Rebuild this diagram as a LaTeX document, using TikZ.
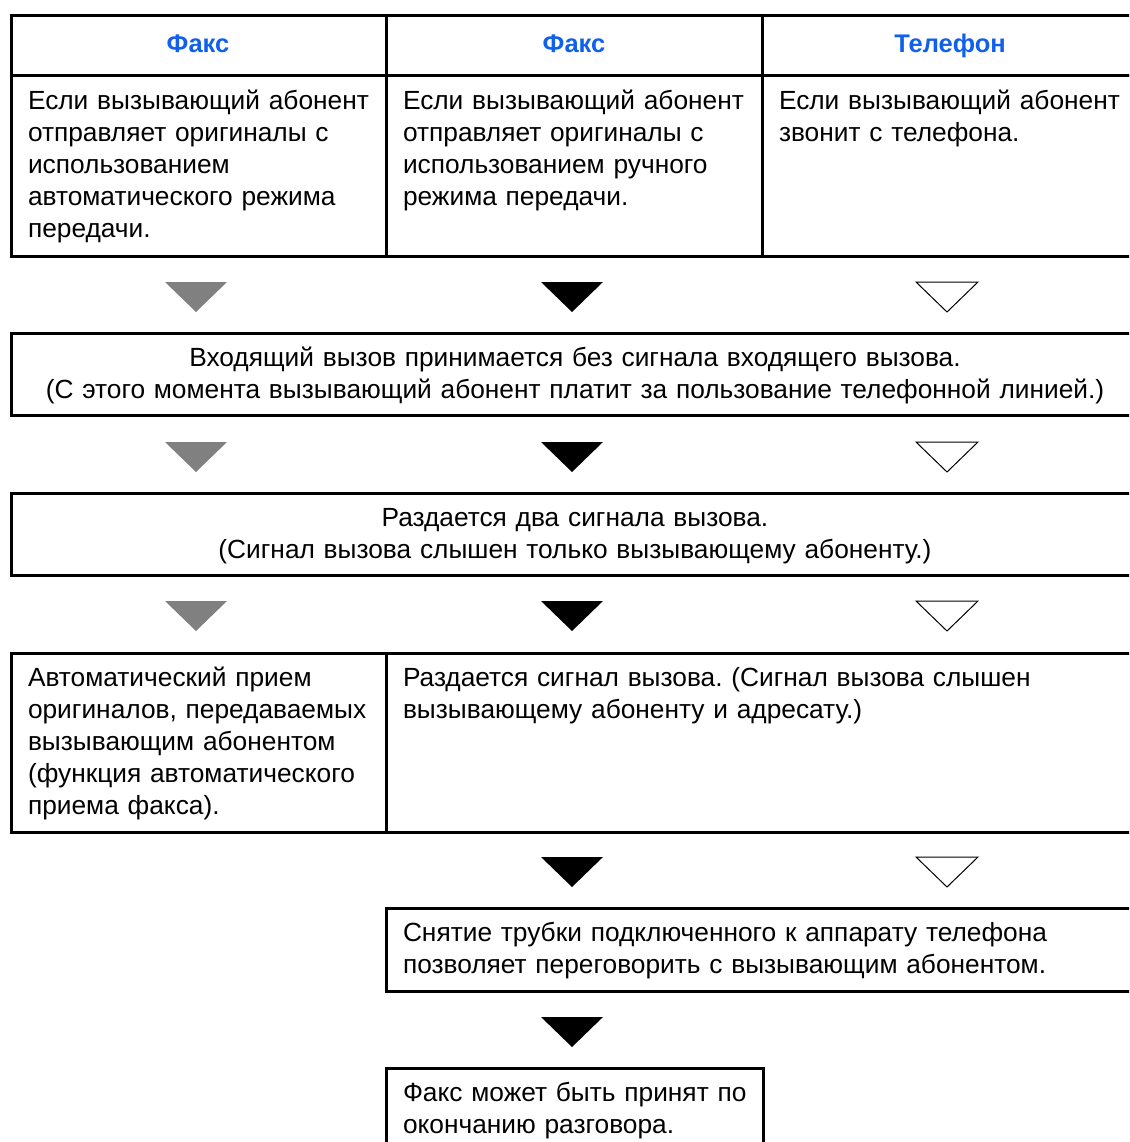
\documentclass[tikz,border=0pt]{standalone}
\usepackage{fontspec}
\setmainfont{Liberation Sans}
\frenchspacing
\definecolor{hblue}{RGB}{16,96,236}
\definecolor{tgray}{RGB}{128,128,128}
\begin{document}
\begin{tikzpicture}[x=1pt,y=-1pt,
  cell/.style={draw,line width=3pt,rectangle,anchor=north west,inner sep=0pt,outer sep=0pt},
  hdr/.style={font=\fontsize{25.5}{30}\selectfont\bfseries\frenchspacing,text=hblue,anchor=base,inner sep=0pt},
  txt/.style={anchor=north west,inner sep=0pt,outer sep=0pt,align=left,text width=#1,font=\fontsize{26.3}{32}\selectfont\frenchspacing},
  ctxt/.style={anchor=north,inner sep=0pt,outer sep=0pt,align=center,text width=#1,font=\fontsize{26.3}{32}\selectfont\frenchspacing},
  tri/.pic={\path[pic actions] (-31,0) -- (31,0) -- (0,30) -- cycle;},
  trigray/.style={fill=tgray},
  triblack/.style={fill=black},
  triwhite/.style={draw=black,fill=white,line width=1pt,line join=miter},
]
\useasboundingbox (0,0) rectangle (1129,1142);
\clip (0,0) rectangle (1129,1142);
% top table
\node[cell,minimum width=375,minimum height=60] (h1) at (11,16) {};
\node[cell,minimum width=376,minimum height=60] (h2) at (386,16) {};
\node[cell,minimum width=377,minimum height=60] (h3) at (762,16) {};
\node[cell,minimum width=375,minimum height=180] (c1) at (11,76) {};
\node[cell,minimum width=376,minimum height=180] (c2) at (386,76) {};
\node[cell,minimum width=377,minimum height=180] (c3) at (762,76) {};
\node[hdr] (h1t) at (198,53) {Факс};
\node[hdr] (h2t) at (574,53) {Факс};
\node[hdr] (h3t) at (950,53) {Телефон};
\node[txt=370] (c1t) at (28,87.6) {\strut Если вызывающий абонент\\отправляет оригиналы с\\использованием\\автоматического режима\\передачи.};
\node[txt=370] (c2t) at (403,87.6) {\strut Если вызывающий абонент\\отправляет оригиналы с\\использованием ручного\\режима передачи.};
\node[txt=370] (c3t) at (779,87.6) {\strut Если вызывающий абонент\\звонит с телефона.};
% row 1 triangles
\pic[trigray] at (196,282) {tri};
\pic[triblack] at (572,282) {tri};
\pic[triwhite] at (947,282) {tri};
% box 2
\node[cell,minimum width=1128,minimum height=82] (b2) at (11,333) {};
\node[ctxt=1120] (b2t) at (575,343.6) {\strut Входящий вызов принимается без сигнала входящего вызова.\\(С этого момента вызывающий абонент платит за пользование телефонной линией.)};
% row 2 triangles
\pic[trigray] at (196,442) {tri};
\pic[triblack] at (572,442) {tri};
\pic[triwhite] at (947,442) {tri};
% box 3
\node[cell,minimum width=1128,minimum height=82] (b3) at (11,493) {};
\node[ctxt=1120] (b3t) at (575,503.6) {\strut Раздается два сигнала вызова.\\(Сигнал вызова слышен только вызывающему абоненту.)};
% row 3 triangles
\pic[trigray] at (196,601) {tri};
\pic[triblack] at (572,601) {tri};
\pic[triwhite] at (947,601) {tri};
% box 4
\node[cell,minimum width=375,minimum height=179] (b4a) at (11,653) {};
\node[cell,minimum width=753,minimum height=179] (b4b) at (386,653) {};
\node[txt=370] (b4at) at (28,663.6) {\strut Автоматический прием\\оригиналов, передаваемых\\вызывающим абонентом\\(функция автоматического\\приема факса).};
\node[txt=720] (b4bt) at (403,663.6) {\strut Раздается сигнал вызова. (Сигнал вызова слышен\\вызывающему абоненту и адресату.)};
% row 4 triangles
\pic[triblack] at (572,857) {tri};
\pic[triwhite] at (947,857) {tri};
% box 5
\node[cell,minimum width=753,minimum height=83] (b5) at (386,908) {};
\node[txt=720] (b5t) at (403,918.6) {\strut Снятие трубки подключенного к аппарату телефона\\позволяет переговорить с вызывающим абонентом.};
% row 5 triangle
\pic[triblack] at (572,1017) {tri};
% box 6
\node[cell,minimum width=377,minimum height=90] (b6) at (386,1068) {};
\node[txt=360] (b6t) at (403,1078.6) {\strut Факс может быть принят по\\окончанию разговора.};
\end{tikzpicture}
\end{document}
